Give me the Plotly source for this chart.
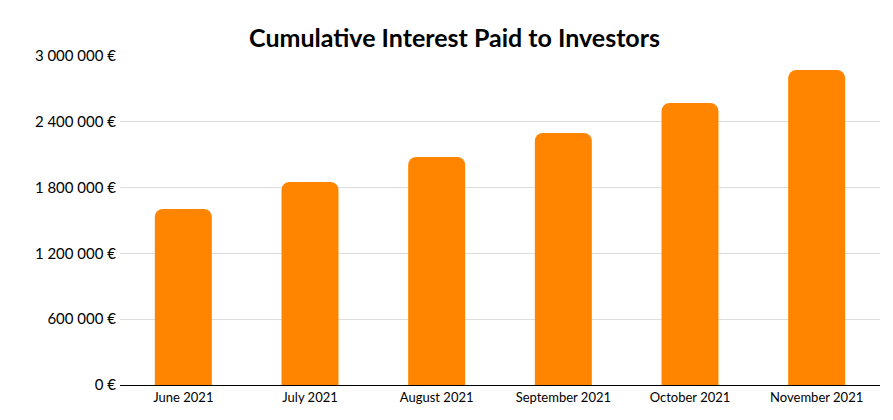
import plotly.graph_objects as go

months = ["June 2021", "July 2021", "August 2021", "September 2021", "October 2021", "November 2021"]
interest = [1605000, 1851000, 2079000, 2298000, 2571000, 2872000]
tick_vals = [0, 600000, 1200000, 1800000, 2400000, 3000000]
tick_text = ["0 €", "600 000 €", "1 200 000 €", "1 800 000 €", "2 400 000 €", "3 000 000 €"]

fig = go.Figure(go.Bar(x=months, y=interest, width=0.45,
                       marker=dict(color="#FF8500", cornerradius=8, line=dict(width=0))))
fig.update_layout(
    width=893, height=420, plot_bgcolor="white", paper_bgcolor="white",
    margin=dict(l=112, r=21, t=48, b=43),
    title=dict(text="<b>Cumulative Interest Paid to Investors</b>", x=0.5, xanchor="center", y=0.95,
               font=dict(family="Lato", size=25, color="black")),
    font=dict(family="Lato", size=13, color="black"),
    showlegend=False,
)
fig.update_yaxes(range=[0, 3000000], tickvals=tick_vals, ticktext=tick_text,
                 gridcolor="#dddddd", zeroline=False, showline=False, ticklen=0,
                 tickfont=dict(size=15), ticks="outside", tickcolor="white")
fig.update_xaxes(showline=True, linecolor="black", linewidth=1, tickfont=dict(size=13))
fig.write_html("out.html")
